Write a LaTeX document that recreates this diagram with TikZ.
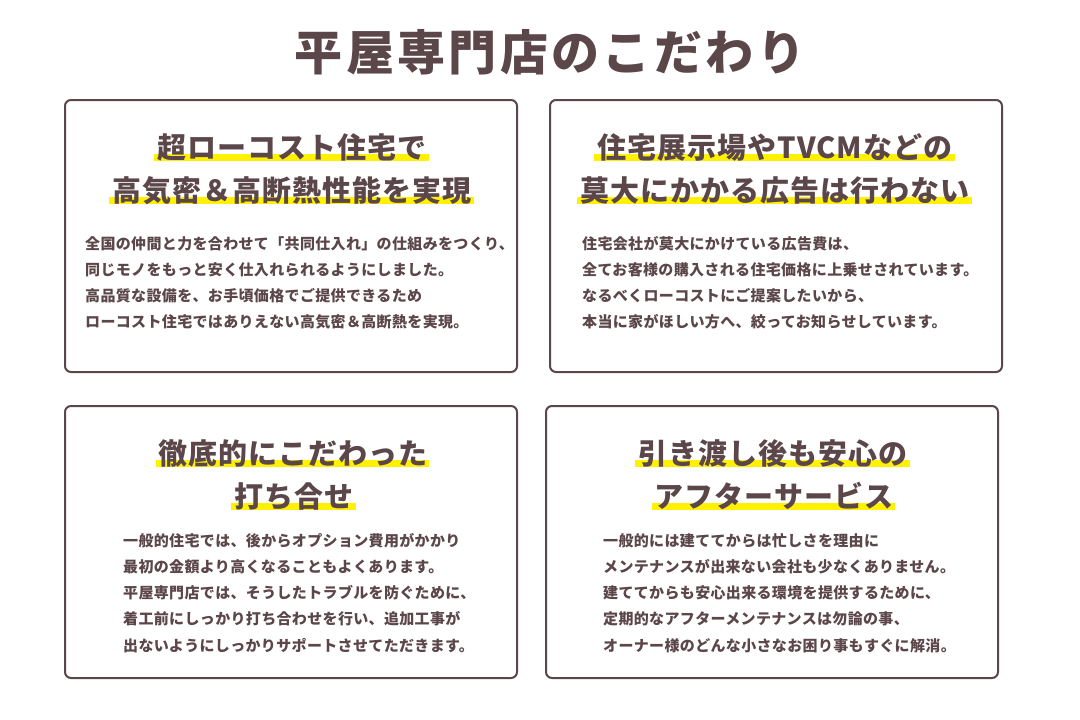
\documentclass[tikz,border=0pt]{standalone}
\usepackage{fontspec}
\usetikzlibrary{backgrounds}
\newfontfamily\jptitle{Noto Sans CJK JP}[LetterSpace=7]
\newfontfamily\jphead{Noto Sans CJK JP}[LetterSpace=3.5]
\newfontfamily\jpbody{Noto Sans CJK JP}[LetterSpace=2.3]
\definecolor{ink}{HTML}{5B464A}
\definecolor{hlyellow}{HTML}{FFF100}
\tikzset{
  card/.style={draw=ink, line width=2pt, rounded corners=6pt, minimum width=452pt, minimum height=272pt, inner sep=0pt},
  headline/.style={inner sep=0pt, anchor=base, text=ink, font=\jphead\bfseries\fontsize{29pt}{34pt}\selectfont},
  bodyline/.style={inner sep=0pt, anchor=base west, text=ink, font=\jpbody\bfseries\fontsize{15pt}{26pt}\selectfont},
  titletext/.style={inner sep=0pt, anchor=base, text=ink, font=\jptitle\bfseries\fontsize{48pt}{56pt}\selectfont},
  band/.style={fill=hlyellow}
}
\begin{document}
\begin{tikzpicture}[x=1pt,y=-1pt]
\useasboundingbox (0,0) rectangle (1080,720);
% title
\node[titletext] (title) at (550,70) {平屋専門店のこだわり};
% cards
\node[card] (c1) at (291,236) {};
\node[card] (c2) at (776,236) {};
\node[card] (c3) at (291,542) {};
\node[card] (c4) at (772,542) {};
% headings
\node[headline] (h11) at (292,158) {超ローコスト住宅で};
\node[headline] (h12) at (292,201) {高気密＆高断熱性能を実現};
\node[headline] (h21) at (775,158) {住宅展示場やTVCMなどの};
\node[headline] (h22) at (775,201) {莫大にかかる広告は行わない};
\node[headline] (h31) at (293,464) {徹底的にこだわった};
\node[headline] (h32) at (294,507) {打ち合せ};
\node[headline] (h41) at (773,464) {引き渡し後も安心の};
\node[headline] (h42) at (774,507) {アフターサービス};
\begin{scope}[on background layer]
\fill[white] (0,0) rectangle (1080,720);
\foreach \h in {h11,h12,h21,h22,h31,h32,h41,h42}
  \fill[band] ([xshift=-3pt,yshift=4pt]\h.base west) rectangle ([xshift=2pt,yshift=-3pt]\h.base east);
\end{scope}
% body texts
\foreach \t [count=\i from 0] in {全国の仲間と力を合わせて「共同仕入れ」の仕組みをつくり、,同じモノをもっと安く仕入れられるようにしました。,高品質な設備を、お手頃価格でご提供できるため,ローコスト住宅ではありえない高気密＆高断熱を実現。}
  \node[bodyline] (b1\i) at (85,{249+26*\i}) {\t};
\foreach \t [count=\i from 0] in {住宅会社が莫大にかけている広告費は、,全てお客様の購入される住宅価格に上乗せされています。,なるべくローコストにご提案したいから、,本当に家がほしい方へ、絞ってお知らせしています。}
  \node[bodyline] (b2\i) at (582,{249+26*\i}) {\t};
\foreach \t [count=\i from 0] in {一般的住宅では、後からオプション費用がかかり,最初の金額より高くなることもよくあります。,平屋専門店では、そうしたトラブルを防ぐために、,着工前にしっかり打ち合わせを行い、追加工事が,出ないようにしっかりサポートさせてただきます。}
  \node[bodyline] (b3\i) at (123,{546+26.25*\i}) {\t};
\foreach \t [count=\i from 0] in {一般的には建ててからは忙しさを理由に,メンテナンスが出来ない会社も少なくありません。,建ててからも安心出来る環境を提供するために、,定期的なアフターメンテナンスは勿論の事、,オーナー様のどんな小さなお困り事もすぐに解消。}
  \node[bodyline] (b4\i) at (603,{546+26.25*\i}) {\t};
\end{tikzpicture}
\end{document}
